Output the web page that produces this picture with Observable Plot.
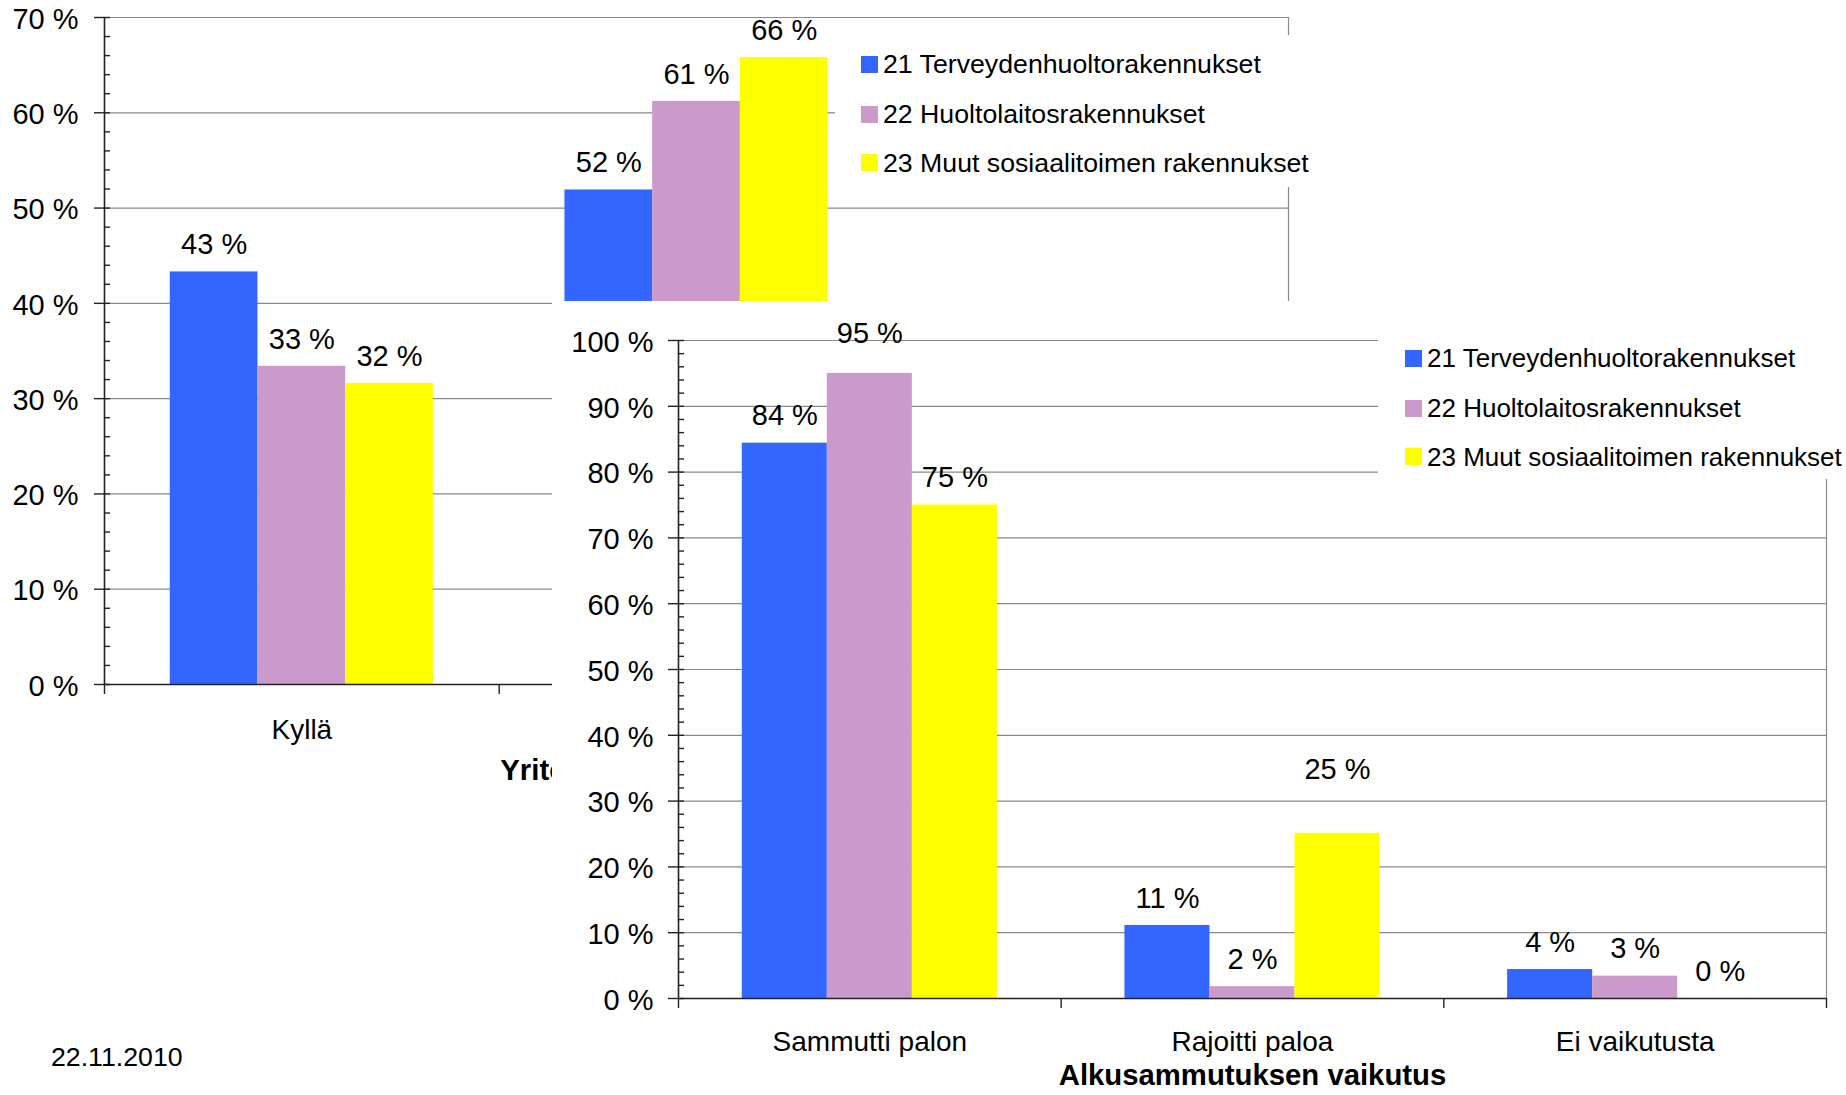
<!DOCTYPE html>
<html>
<head>
<meta charset="utf-8">
<script src="https://cdn.jsdelivr.net/npm/d3@7"></script>
<script src="https://cdn.jsdelivr.net/npm/@observablehq/plot@0.6"></script>
<style>
  html, body { margin: 0; padding: 0; background: #fff; }
  body { font-family: "Liberation Sans", Arial, sans-serif; color: #000; }
  #page { position: relative; width: 1846px; height: 1095px; overflow: hidden; background: #fff; }
  .layer { position: absolute; }
  .legend { position: absolute; background: #fff; }
  .legend .row { position: absolute; left: 0; height: 30px; display: flex; align-items: center; white-space: nowrap; line-height: 30px; }
  .legend .sw { width: 17px; height: 17px; flex: none; }
  .legend .lbl { margin-left: 5px; }
  #date { position: absolute; left: 51px; top: 1042px; height: 30px; line-height: 30px; font-size: 26.7px; }
</style>
</head>
<body>
<div id="page">
  <div id="chart1" class="layer" style="left:0;top:0;z-index:1"></div>
  <div id="legend1" class="legend" style="left:835px;top:35px;width:485px;height:152px;z-index:2;font-size:26.7px"></div>
  <div id="chart2" class="layer" style="left:552px;top:301px;z-index:3;background:#fff"></div>
  <div id="legend2" class="legend" style="left:1378px;top:320px;width:468px;height:159px;z-index:4;font-size:26px"></div>
  <div id="date" style="z-index:5">22.11.2010</div>
</div>
<script>
// ---------- data ----------
const seriesNames = ["21 Terveydenhuoltorakennukset", "22 Huoltolaitosrakennukset", "23 Muut sosiaalitoimen rakennukset"];
const seriesColors = ["#3366FF", "#CC99CC", "#FFFF00"];

// Chart 1 (back): Yritettiinkö alkusammutusta
const categories1 = ["Kyllä", "Ei", "Ei tiedossa"];
const values1_21 = [43.3, 51.9];
const values1_22 = [33.4, 61.2];
const values1_23 = [31.6, 65.8];
const yTicks1 = [0, 10, 20, 30, 40, 50, 60, 70];
const title1 = "Yritettiinkö alkusammutusta";

// Chart 2 (front): Alkusammutuksen vaikutus
const categories2 = ["Sammutti palon", "Rajoitti paloa", "Ei vaikutusta"];
const values2_21 = [84.4, 11.1, 4.4];
const values2_22 = [95.0, 1.8, 3.4];
const values2_23 = [75.0, 25.1, 0];
const yTicks2 = [0, 10, 20, 30, 40, 50, 60, 70, 80, 90, 100];
const title2 = "Alkusammutuksen vaikutus";

// ---------- layout / style config ----------
const gapWidth = 1.5;                       // Excel-like gap width (in bar widths)
const barW = 1 / (3 + gapWidth);
const barOff = gapWidth / 2 * barW;
const FONT = "Liberation Sans, Arial, sans-serif";
const GRID = "#8a8a8a";
const AXIS = "#222";
const LABEL_SIZE = 29;
const TITLE_SIZE = 29.3;
// extra lift (px) for labels that were moved up in the original
const labelLift2 = new Map([["Sammutti palon|" + seriesNames[1], 13], ["Rajoitti paloa|" + seriesNames[2], 37]]);

function makeRows(cats, seriesVals) {
  const rows = [];
  seriesVals.forEach((vals, si) => {
    vals.forEach((v, ci) => rows.push({cat: cats[ci], ci, series: seriesNames[si], si, value: v}));
  });
  return rows;
}

function chart(cfg) {
  const rows = makeRows(cfg.cats, cfg.series);
  const minor = d3.range(0, cfg.yMax + 0.001, 2).filter(v => v % 10 !== 0);
  const lift = d => cfg.lift ? (cfg.lift.get(d.cat + "|" + d.series) || 0) : 0;
  const lifts = Array.from(new Set(rows.map(lift)));
  const cx = d => d.ci + barOff + (d.si + 0.5) * barW;
  return Plot.plot({
    width: cfg.width, height: cfg.height,
    marginLeft: cfg.ml, marginRight: cfg.mr, marginTop: cfg.mt, marginBottom: cfg.mb,
    style: {background: "white", fontFamily: FONT, fontSize: "28px", color: "#000", overflow: "visible"},
    x: {domain: [0, cfg.cats.length], label: null},
    y: {domain: [0, cfg.yMax], label: null},
    color: {domain: seriesNames, range: seriesColors},
    marks: [
      Plot.ruleY(cfg.yTicks.filter(v => v > 0), {stroke: GRID, strokeWidth: 1.2}),
      Plot.ruleX([cfg.cats.length], {stroke: GRID, strokeWidth: 1.2}),
      Plot.rect(rows, {
        x1: d => d.ci + barOff + d.si * barW,
        x2: d => d.ci + barOff + (d.si + 1) * barW,
        y1: 0, y2: "value", fill: "series"
      }),
      Plot.ruleX([0], {stroke: AXIS, strokeWidth: 1.6}),
      Plot.ruleY([0], {stroke: AXIS, strokeWidth: 1.6}),
      Plot.axisY({ticks: cfg.yTicks, tickSize: 16, dx: 6, tickFormat: () => "", stroke: AXIS, strokeWidth: 1.4}),
      Plot.axisY({ticks: minor, tickSize: 6, dx: 6, tickFormat: () => "", stroke: AXIS, strokeWidth: 1.4}),
      Plot.axisY({ticks: cfg.yTicks, tickSize: 0, tickPadding: cfg.yPad, dy: 2, tickFormat: d => `${d} %`, fontSize: LABEL_SIZE}),
      Plot.axisX({ticks: d3.range(cfg.cats.length + 1), tickSize: 10, tickFormat: () => "", stroke: AXIS, strokeWidth: 1.4}),
      Plot.axisX({ticks: cfg.cats.map((c, i) => i + 0.5), tickSize: 0, tickPadding: cfg.xPad,
                  tickFormat: v => cfg.cats[Math.floor(v)], fontSize: 28}),
      ...lifts.map(L => Plot.text(rows.filter(d => lift(d) === L), {
        x: cx, y: "value", text: d => `${Math.round(d.value)} %`, dy: -27 - L, fontSize: LABEL_SIZE, fill: "#000"
      })),
      Plot.text([cfg.title], {x: () => cfg.cats.length / 2, frameAnchor: "bottom", dy: cfg.titleDy,
                              text: d => d, fontWeight: "bold", fontSize: TITLE_SIZE, fill: "#000"})
    ]
  });
}

document.getElementById("chart1").appendChild(chart({
  cats: categories1, series: [values1_21, values1_22, values1_23], yMax: 70, yTicks: yTicks1,
  width: 1320, height: 800, ml: 104, mr: 32, mt: 17, mb: 116, yPad: 26, xPad: 35, titleDy: 95.5, title: title1
}));

document.getElementById("chart2").appendChild(chart({
  cats: categories2, series: [values2_21, values2_22, values2_23], yMax: 100, yTicks: yTicks2, lift: labelLift2,
  width: 1294, height: 794, ml: 126, mr: 20, mt: 39, mb: 97, yPad: 25, xPad: 33, titleDy: 86, title: title2
}));

function legend(el, centers, swLeft) {
  seriesNames.forEach((name, i) => {
    const row = document.createElement("div");
    row.className = "row";
    row.style.top = (centers[i] - 15) + "px";
    row.style.left = swLeft + "px";
    const sw = document.createElement("div");
    sw.className = "sw";
    sw.style.background = seriesColors[i];
    const lbl = document.createElement("span");
    lbl.className = "lbl";
    lbl.textContent = name;
    row.appendChild(sw); row.appendChild(lbl);
    el.appendChild(row);
  });
}
legend(document.getElementById("legend1"), [29.4, 79.4, 127.8], 26);
legend(document.getElementById("legend2"), [38.3, 88.3, 136.7], 27);
</script>
</body>
</html>
